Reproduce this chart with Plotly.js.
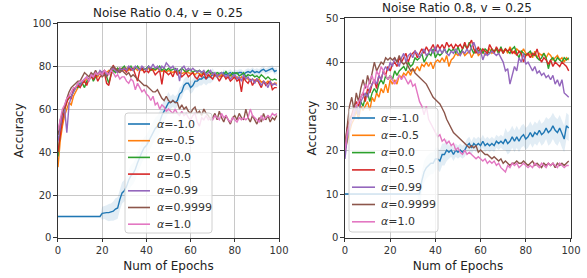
<!DOCTYPE html>
<html>
<head>
<meta charset="utf-8">
<script src="https://cdn.plot.ly/plotly-3.0.1.min.js"></script>
<style>html,body{margin:0;padding:0;background:#fff}#chart{width:587px;height:278px}</style>
</head>
<body>
<div id="chart"></div>
<script>
// ---------- data ----------
const epochs = Array.from({length: 100}, (_, i) => i);
const legendLabels = ["<i>α</i>=-1.0", "<i>α</i>=-0.5", "<i>α</i>=0.0", "<i>α</i>=0.5", "<i>α</i>=0.99", "<i>α</i>=0.9999", "<i>α</i>=1.0"];
const colors = ["#1f77b4", "#ff7f0e", "#2ca02c", "#d62728", "#9467bd", "#8c564b", "#e377c2"];

// Left panel: Noise Ratio 0.4
const L_m10 = [10,10,10,10,10,10,10,10,10,10, 10,10,10,10,10,10,10,10,10,10,
  11.5,11.8,11.8,11.8,12,12.5,13.5,14,18,21, 22,24,27,29,30,32,35,38,40,42,
  43,45,47,49,51,52,54,57,59,61, 63,63,64,63,64,67,68,71,72,72,
  70,71,73,73,74,74,75,74,75,75, 76,75.5,76,76,75,77,76,76.5,77,76,
  77,76.5,77,77,76,77,77.5,77,78,77, 77.5,77,78,78.5,77.5,78,78.5,79,77.5,78];
const L_m10_std = [0.3,0.3,0.3,0.3,0.3,0.3,0.3,0.3,0.3,0.3, 0.3,0.3,0.3,0.3,0.3,0.3,0.3,0.3,0.3,0.3,
  3,3,3.5,4,4,4.5,5,5,5,5, 5,5,5,5,5,5,5,5,5,5,
  5,5,5,5,5,5,5,5,5,5, 5,3,3,3,3,3,3,3,3,3,
  3,3,3,3,3,3,3,3,3,3, 3,1.5,1.5,1.5,1.5,1.5,1.5,1.5,1.5,1.5,
  1.5,1.5,1.5,1.5,1.5,1.5,1.5,1.5,1.5,1.5, 1.5,1.5,1.5,1.5,1.5,1.5,1.5,1.5,1.5,1.5];
const L_m05 = [33,45,52,57,60,63,62,66,68,70, 71,72,73,74,74,75,75,76,75,77,
  77,78,77,78,77,79,78,79,78,79, 78,79,78,79,78.5,79,78,79,78,78.5,
  78,79,78,78.5,78,79,78,77.5,78,77, 78,77.5,77,78,77,77.5,76.5,77,78,77,
  76.5,77,76,77,76.5,76,77,76,75.5,76, 76.5,75.5,76,75,76,75.5,74.5,75,76,75,
  74.5,75,74,75,73.5,74.5,74,73,74,73.5, 73,74,72.5,73,72,73,72.5,71.5,72,72];
const L_00 = [38,50,55,60,64,65,66,68,70,70, 72,72,70,73,74,76,73,75,76,77,
  76,77,75,72,76,78,77,79,78,79, 80,78,79,80,78,79,80,78,79,78.5,
  79,80,78,79,78.5,79,80,78,79,78, 79,78,78.5,79,77.5,78,79,78,77,78,
  78.5,77,78,77.5,78,77,76.5,77,78,76.5, 77,76,77,76.5,77,76,77.5,76,75.5,77,
  76.5,77,75.5,76,77,75,76,75.5,76,75, 75.5,74.5,76,75,74,75,74,73.5,74,73.5];
const L_05 = [40,48,55,60,63,66,65,69,70,71, 70,72,73,71,74,75,74,76,73,75,
  76,77,72,71,76,80.5,78,77,79,78, 79,77,80,78,79,76,73,78,79,77,
  78,77,79,78,76,77,78,71.5,78,77, 76,77,75,78,76,77,75,76,77,75,
  76,77,75,74,76,75,77,74,76,75, 74,76,75,73,75,76,74,75,73,74,
  75,73,74,68,75,73,72,74,71,73, 74,72,70,73,71,72,73,69,70,70];
const L_099 = [45,52,58,60,49,62,66,68,70,72, 71,73,74,75,73,76,75,77,76,78,
  77,78,76,77,78,79,78,77,79,78, 79,78,80,79,78,80,79,78,80,79,
  78,80,79,81,79,80,78,80,79,81.5, 80,79,80,78,79,73,79,80,78,79,
  78,79,78,77,78,77,78,76,77,78, 76,77,75,76,77,76,75,76,74,75,
  76,74,75,73,76,74,75,73,74,72, 74,73,71,73,72,70,73,71,72,71];
const L_09999 = [48,55,58,62,65,68,70,71,72,73, 73,75,77,76,75,77,76,78,76,77,
  75,76,75,77,79,80,79,78,77,78, 77,76,77,75,76,75,74,73,72,71,
  71,70,69,68,68,69,67,65,64,66, 64,63,64,63,63,60,62,60,61,59,
  58,60,61,58,59,57,60,58,57,55, 56,58,55,59,56,54,57,55,53,56,
  57,55,58,56,55,60,56,54,57,55, 53,56,54,58,55,57,54,56,55,57];
const L_10 = [50,55,60,62,65,66,68,70,70,72, 73,73,74,75,73,76,75,77,76,77,
  76,78,77,76,78,77,75,76,74,75, 75,73,72,74,73,69,72,70,68,69,
  67,66,64,66,62,63,60,62,61,59, 60,59,58,60,58,57,59,57,58,56,
  55,57,58,54,52,56,55,57,55,56, 55,57,56,55,58,56,57,55,54,56,
  55,54,56,55,56,55,56,60,57,56, 55,54,57,55,56,57,56,58,57,58];

// Right panel: Noise Ratio 0.8
const R_m10 = [10,10,10,10,10,10,10,10,10,10, 10,10,10,10,10,10,10,10,10,10,
  10,10,10,10,10,10,10,10,10,10, 10,10,10,10,13,15,16,16.5,17,17,
  18,18,17.5,19,19,20,19.5,20,19,20, 19.5,20,19.5,20,21,21.5,20.5,21.5,21,21.5,
  21,22,21,21.5,21,21.5,21,22,21.5,22, 21.5,22.5,21.5,22,23,22,23,22,23,23.5,
  22.5,23,24,23,24,23.5,24.5,23.5,24,25, 24,24.5,25.5,24.5,24,25,23.5,22.5,25.5,25];
const R_m10_std = [0.2,0.2,0.2,0.2,0.2,0.2,0.2,0.2,0.2,0.2, 0.2,0.2,0.2,0.2,0.2,0.2,0.2,0.2,0.2,0.2,
  0.2,0.2,0.2,0.2,0.2,0.2,0.2,0.2,0.2,0.2, 0.2,0.2,0.2,2.5,2.5,2.5,2.5,2.5,2.5,2.5,
  2.5,2.5,2.5,2.5,2.5,2.5,1.5,1.5,1.5,1.5, 1.5,1.5,1.5,1.5,1.5,1.5,1.5,1.5,1.5,1.5,
  1.5,1.5,1.5,1.5,1.5,1.5,1.5,1.5,1.5,1.5, 1.5,2.5,2.5,2.5,2.5,2.5,2.5,2.5,2.5,2.5,
  2.5,2.5,2.5,2.5,2.5,2.5,2.5,2.5,2.5,2.5, 3,3,3,3,3,3,3,3,3,3];
const R_m05 = [20,22,24,26,27,29,27,30,29,30, 31,29,32,31,33,32,34,33,35,33,
  36,35,36,35,37,36.5,37.5,37,38,37, 38.5,38,39,38,39.5,39,40,39,40,38.5,
  40,40.5,40,41,40,41.5,39,40.5,41,42, 41.5,42,42.5,41.5,42,42.5,41,42,43,41.5,
  42,42.5,41.5,42.5,43,42,42.5,43,42,43, 42.5,43,42,43.5,42.5,42,43,42.5,42,43,
  42,41.5,42,41,42.5,41,42,41.5,42,41, 42,41.5,40.5,41,41.5,40.5,41,40,41,40.5];
const R_00 = [20,23,26,28,29,30,28,31,30,32, 33,31,33,34,33,35,36,35,37,36,
  37,36,38,37,38,38.5,39,38,40,39, 39.5,41,40.5,41,42,40,41,42,41.5,43,
  41,42,41.5,42,43,42,43,42.5,43,42, 43.5,42,43,44,43,44.5,43,42,43,42.5,
  43,42,43,42.5,42,43,42.5,43,42,43.5, 42,43,42.5,42,43,43.5,42,41,42.5,42,
  41.5,42,42.5,41.5,42,41,40.5,41,42,41, 38.5,40.5,41,40,41,40.5,40,41,40.5,41];
const R_05 = [21,25,27,28,30,31,30,32,33,31, 34,33,35,36,34,37,36,38,37,39,
  38,39.5,40,39,41,40,41,42,40,41.5, 42,42.5,41,42,43,42,43.5,42.5,43,44,
  42.5,44,43,44,43,44.5,43.5,44,43,44, 43.5,44,43,44.5,43,44,45,43,42,43.5,
  42,43,42.5,42,44,43,42,43.5,42.5,43, 42,43,42.5,43,42,42.5,41.5,42.5,42,40,
  41.5,42,41,42,41.5,43,41,40,41,40.5, 39.5,40.5,39,40,39.5,39,40,39.5,39,38];
const R_099 = [18,23,25,27,28,30,28,31,32,33, 32,34,35,36,35,37,36,38,39,38,
  40,39,41,40,39,41,42,40,41.5,42, 41,42.5,42,41,42,43,41.5,42,43,42,
  43.5,42,43,42,43,42,41.5,42.5,42,43, 42,41.5,42.5,42,43,42,43.5,44.5,43,42,
  42.5,40.5,42,41.5,42,42.5,42,41.5,42,41, 40,38,38.5,35,37,39,38,41,40,42,
  39.5,40,39,38,39,37.5,38,37,37.5,36.5, 37,36,37,35,36,34.5,36,33,32.5,32];
const R_09999 = [21,26,30,32,29,33,31,34,36,34, 37,35,38,40,38,39,40,39.5,41,40.5,
  41,40.5,41,40,41.5,40,39.5,40,39,38, 38.5,37.5,37,36.5,36,35.5,35,34,33,32,
  31.5,31,30.5,29.5,28.5,27,26,25,24,23.5, 23,22.5,22,21.5,21,20.5,21,20.5,21,19.5,
  20,19.5,19,19,18.5,18,18.5,18,17.5,18, 17,17.5,17,16.5,17,17,17.5,17,17,17.5,
  17,16.5,17,17.5,16.5,17,16.5,16,17,16.5, 17,16.5,17,16,17,16.5,17,16.5,17,17.5];
const R_10 = [20,24,26,27,29,30,31,32,33,35, 34,36,37,35,38,37,39,38,37,36,
  37,36,35,36,37,36,37,36,35,36, 34.5,35,33,31,30,28,30,27,26,25,
  24,23,23.5,22,22.5,21.5,22,21,21.5,20, 20.5,19.5,19,20,19,19.5,19,18.5,18,18.5,
  18,17.5,18,17,17.5,17,17.5,16.5,17,16, 15.5,15,16.5,16,17,16.5,17,16,16.5,17,
  16.5,16,16.5,16,17,16.5,16,17,16.5,16, 17,16.5,17,16.5,16,17,16.5,16,16.5,16.5];

// ---------- build ----------
const W = 587, H = 278;
const leftSeries = [L_m10, L_m05, L_00, L_05, L_099, L_09999, L_10];
const rightSeries = [R_m10, R_m05, R_00, R_05, R_099, R_09999, R_10];

function rgba(hex, a) {
  const r = parseInt(hex.slice(1,3),16), g = parseInt(hex.slice(3,5),16), b = parseInt(hex.slice(5,7),16);
  return `rgba(${r},${g},${b},${a})`;
}

const traces = [];
function addBand(ys, std, color, xa, ya) {
  traces.push({x: epochs, y: ys.map((v,i)=>v-std[i]), xaxis: xa, yaxis: ya, mode: 'lines',
    line: {width: 0}, showlegend: false, hoverinfo: 'skip'});
  traces.push({x: epochs, y: ys.map((v,i)=>v+std[i]), xaxis: xa, yaxis: ya, mode: 'lines',
    line: {width: 0}, fill: 'tonexty', fillcolor: rgba(color, 0.13), showlegend: false, hoverinfo: 'skip'});
}
addBand(L_m10, L_m10_std, colors[0], 'x', 'y');
addBand(R_m10, R_m10_std, colors[0], 'x2', 'y2');

leftSeries.forEach((s, i) => {
  traces.push({x: epochs, y: s, xaxis: 'x', yaxis: 'y', mode: 'lines', name: legendLabels[i],
    line: {color: colors[i], width: 1.4}, showlegend: false});
});
rightSeries.forEach((s, i) => {
  traces.push({x: epochs, y: s, xaxis: 'x2', yaxis: 'y2', mode: 'lines', name: legendLabels[i],
    line: {color: colors[i], width: 1.4}, showlegend: false});
});

const font = {family: 'DejaVu Sans, sans-serif', size: 10, color: '#333'};
function axis(extra) {
  return Object.assign({
    showgrid: true, gridcolor: '#c8c8c8', gridwidth: 1,
    showline: true, mirror: true, linecolor: '#333', linewidth: 1,
    ticks: 'outside', ticklen: 3.5, tickcolor: '#333', tickwidth: 1,
    zeroline: false, tickfont: {family: 'DejaVu Sans, sans-serif', size: 10, color: '#333'}
  }, extra);
}
const titleFont = {family: 'DejaVu Sans, sans-serif', size: 12, color: '#222'};

// manual legends (pixel boxes -> paper coords)
const shapes = [], annotations = [];
function px(x) { return x / W; }
function py(y) { return 1 - y / H; }
function addLegend(box, lineX0, lineX1, textX, row0, rowStep) {
  const [x0, y0, x1, y1] = box, r = 3;
  const path = `M${px(x0+r)},${py(y0)} L${px(x1-r)},${py(y0)} Q${px(x1)},${py(y0)} ${px(x1)},${py(y0+r)} ` +
    `L${px(x1)},${py(y1-r)} Q${px(x1)},${py(y1)} ${px(x1-r)},${py(y1)} L${px(x0+r)},${py(y1)} ` +
    `Q${px(x0)},${py(y1)} ${px(x0)},${py(y1-r)} L${px(x0)},${py(y0+r)} Q${px(x0)},${py(y0)} ${px(x0+r)},${py(y0)} Z`;
  shapes.push({type: 'path', xref: 'paper', yref: 'paper', path: path,
    fillcolor: 'rgba(255,255,255,0.8)', line: {color: '#d0d0d0', width: 1}, layer: 'above'});
  legendLabels.forEach((lab, i) => {
    const y = row0 + i * rowStep;
    shapes.push({type: 'line', xref: 'paper', yref: 'paper', x0: px(lineX0), x1: px(lineX1), y0: py(y), y1: py(y),
      line: {color: colors[i], width: 1.6}, layer: 'above'});
    annotations.push({text: lab, xref: 'paper', yref: 'paper', x: px(textX), y: py(y), xanchor: 'left', yanchor: 'middle',
      showarrow: false, font: {family: 'DejaVu Sans, sans-serif', size: 11, color: '#333'}});
  });
}
addLegend([125, 113, 212, 233], 128, 150, 155, 124, 16.7);
addLegend([349, 108, 438, 232], 352, 375, 379, 118, 17.3);

annotations.push(
  {text: 'Noise Ratio 0.4, v = 0.25', xref: 'paper', yref: 'paper', x: 168/W, y: 1 - 13/H,
   xanchor: 'center', yanchor: 'middle', showarrow: false, font: titleFont},
  {text: 'Noise Ratio 0.8, v = 0.25', xref: 'paper', yref: 'paper', x: 457/W, y: 1 - 8/H,
   xanchor: 'center', yanchor: 'middle', showarrow: false, font: titleFont}
);

const layout = {
  width: W, height: H,
  margin: {l: 0, r: 0, t: 0, b: 0},
  paper_bgcolor: '#fff', plot_bgcolor: '#fff',
  font: font,
  showlegend: false,
  xaxis: axis({domain: [0.0988, 0.4753], range: [0, 100], tickvals: [0,20,40,60,80,100], anchor: 'y',
    title: {text: 'Num of Epochs', font: titleFont, standoff: 6}}),
  yaxis: axis({domain: [0.1439, 0.9167], range: [0, 100], tickvals: [0,20,40,60,80,100], anchor: 'x',
    title: {text: 'Accuracy', font: titleFont, standoff: 6}}),
  xaxis2: axis({domain: [0.5877, 0.9727], range: [0, 100], tickvals: [0,20,40,60,80,100], anchor: 'y2',
    title: {text: 'Num of Epochs', font: titleFont, standoff: 6}}),
  yaxis2: axis({domain: [0.1439, 0.9347], range: [0, 50], tickvals: [0,10,20,30,40,50], anchor: 'x2',
    title: {text: 'Accuracy', font: titleFont, standoff: 6}}),
  shapes: shapes,
  annotations: annotations
};

Plotly.newPlot('chart', traces, layout, {displayModeBar: false, staticPlot: true});
</script>
</body>
</html>
